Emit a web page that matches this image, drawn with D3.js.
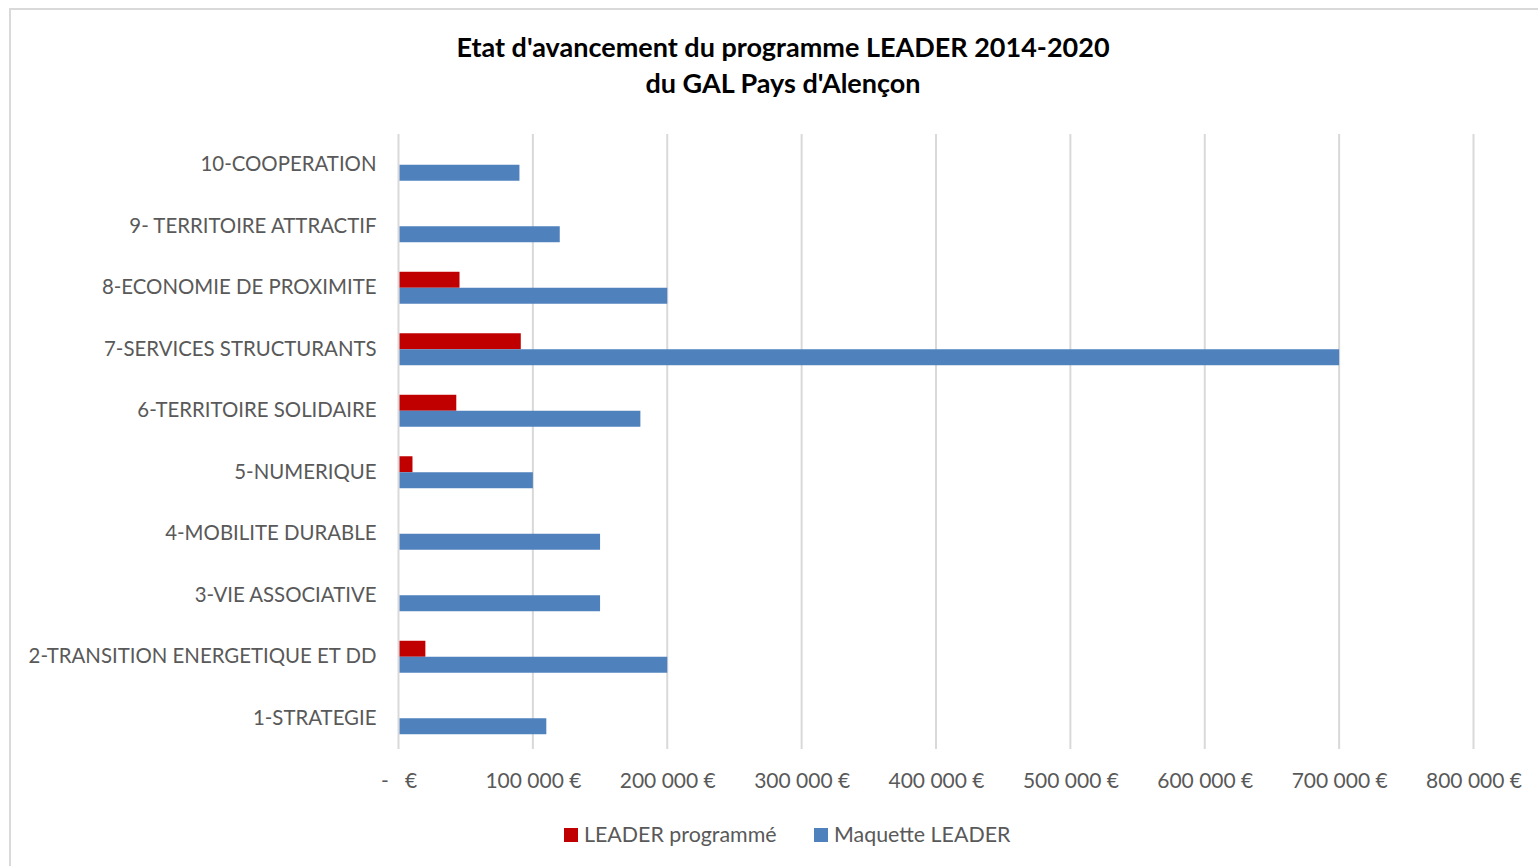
<!DOCTYPE html>
<html>
<head>
<meta charset="utf-8">
<script src="https://cdn.jsdelivr.net/npm/d3@7"></script>
<style>
  html, body { margin: 0; padding: 0; background: #fff; }
  svg { display: block; font-family: Lato, "Open Sans", sans-serif; }
  .y-axis text { fill: #595959; font-size: 20.4px; }
  .x-axis text { fill: #595959; font-size: 21px; }
  .legend-label { fill: #595959; font-size: 21.4px; }
  .title { fill: #000; font-size: 27px; font-weight: bold; }
</style>
</head>
<body>
<svg id="chart"></svg>
<script>
// data
var categories = [
  '1-STRATEGIE',
  '2-TRANSITION ENERGETIQUE ET DD',
  '3-VIE ASSOCIATIVE',
  '4-MOBILITE DURABLE',
  '5-NUMERIQUE',
  '6-TERRITOIRE SOLIDAIRE',
  '7-SERVICES STRUCTURANTS',
  '8-ECONOMIE DE PROXIMITE',
  '9- TERRITOIRE ATTRACTIF',
  '10-COOPERATION'
];
var seriesNames = ['LEADER programmé', 'Maquette LEADER'];
var programme = [0, 20000, 0, 0, 10400, 43000, 91000, 45400, 0, 0];
var maquette = [110000, 200000, 150000, 150000, 100000, 180000, 700000, 200000, 120000, 90000];
var xTicks = [0, 100000, 200000, 300000, 400000, 500000, 600000, 700000, 800000];
var titleLines = ["Etat d'avancement du programme LEADER 2014-2020", "du GAL Pays d'Alençon"];

var colors = ['#c00000', '#4f81bd'];

var W = 1538, H = 866;
var svg = d3.select('#chart').attr('width', W).attr('height', H);

// chart frame (runs off the right and bottom edge)
svg.append('rect')
  .attr('x', 10).attr('y', 9)
  .attr('width', W + 20).attr('height', H + 20)
  .attr('fill', '#fff')
  .attr('stroke', '#d9d9d9')
  .attr('stroke-width', 2);

/**
 * scales
 */
var plot = { left: 398.5, right: 1473.5, top: 134, bottom: 749 };

var x = d3.scaleLinear()
  .domain([0, 800000])
  .range([plot.left, plot.right]);

var y = d3.scaleBand()
  .domain(categories.slice().reverse())
  .range([plot.top, plot.bottom])
  .paddingInner(0.48)
  .paddingOuter(0.24);

var ySub = d3.scaleBand()
  .domain(seriesNames)
  .range([0, y.bandwidth()]);

var rows = categories.map((c, i) => ({
  name: c,
  values: [programme[i], maquette[i]]
}));

/**
 * gridlines
 */
svg.append('g')
  .selectAll('line')
  .data(xTicks)
  .enter().append('line')
    .attr('x1', d => x(d)).attr('x2', d => x(d))
    .attr('y1', plot.top).attr('y2', plot.bottom)
    .attr('stroke', '#d9d9d9')
    .attr('stroke-width', 2);

/**
 * bars
 */
var group = svg.append('g')
  .selectAll('g')
  .data(rows)
  .enter().append('g')
    .attr('transform', d => `translate(0, ${ y(d.name) })`);

group.selectAll('rect')
  .data(d => d.values.map((v, i) => ({ key: seriesNames[i], value: v, i: i })))
  .enter().append('rect')
    .attr('x', x(0) + 1)
    .attr('y', d => ySub(d.key))
    .attr('width', d => Math.max(0, x(d.value) - x(0) - 1))
    .attr('height', ySub.bandwidth())
    .attr('fill', d => colors[d.i]);

/**
 * axes
 */
var fr = d3.formatLocale({ decimal: ',', thousands: '\u00a0', grouping: [3], currency: ['', ' €'] });
var fmt = fr.format(',.0f');

var xAxis = d3.axisBottom(x)
  .tickValues(xTicks)
  .tickSize(0)
  .tickPadding(24)
  .tickFormat(d => d === 0 ? '-\u00a0\u00a0\u00a0€' : fmt(d) + '\u00a0€');

svg.append('g')
  .attr('class', 'x-axis')
  .attr('transform', `translate(0, ${ plot.bottom })`)
  .call(xAxis)
  .call(g => g.select('.domain').remove())
  .attr('font-family', null)
  .attr('font-size', null);

var yAxis = d3.axisLeft(y)
  .tickSize(0)
  .tickPadding(22);

svg.append('g')
  .attr('class', 'y-axis')
  .attr('transform', `translate(${ plot.left }, 0)`)
  .call(yAxis)
  .call(g => g.select('.domain').remove())
  .attr('font-family', null)
  .attr('font-size', null);

/**
 * title
 */
svg.append('g')
  .selectAll('text')
  .data(titleLines)
  .enter().append('text')
    .attr('class', 'title')
    .attr('x', 783)
    .attr('y', (d, i) => 57 + i * 36)
    .attr('text-anchor', 'middle')
    .text(d => d);

/**
 * legend
 */
var legendX = [564, 814];
var legend = svg.append('g')
  .selectAll('g')
  .data(seriesNames)
  .enter().append('g')
    .attr('transform', (d, i) => `translate(${ legendX[i] }, 828)`);

legend.append('rect')
  .attr('width', 14).attr('height', 14)
  .attr('fill', (d, i) => colors[i]);

legend.append('text')
  .attr('class', 'legend-label')
  .attr('x', 20)
  .attr('y', 14)
  .text(d => d);
</script>
</body>
</html>
